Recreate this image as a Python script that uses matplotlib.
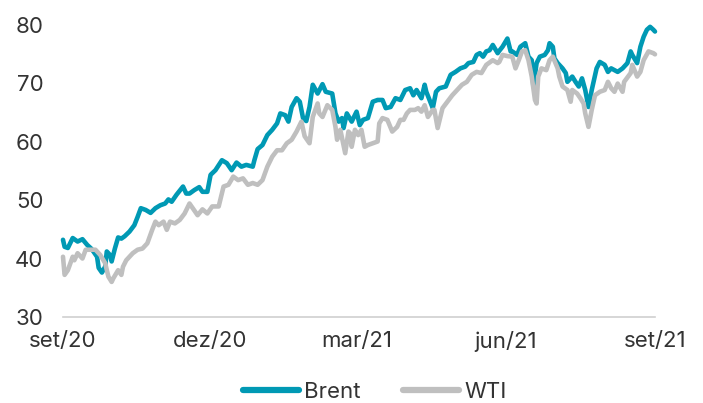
import matplotlib
matplotlib.use('Agg')
import matplotlib.pyplot as plt
import pandas as pd

# Preço do petróleo (US$/barril), set/20 a set/21
inicio = '2020-09-01'

brent_dias = [0, 1, 3, 6, 9, 12, 15, 17, 18, 21, 22, 24, 26, 27, 29, 30, 32, 34, 36, 38,
              41, 44, 46, 48, 51, 54, 57, 60, 63, 65, 67, 70, 74, 76, 78, 81, 84, 86, 89, 91,
              94, 98, 101, 104, 107, 110, 113, 117, 118, 120, 123, 126, 129, 132, 134, 137, 139, 141, 144, 146,
              148, 150, 152, 154, 157, 160, 162, 166, 168, 170, 172, 173, 175, 178, 181, 183, 185, 188, 191, 194,
              197, 199, 202, 205, 208, 211, 214, 216, 218, 221, 223, 224, 226, 228, 230, 232, 236, 239, 242, 245,
              248, 250, 253, 255, 257, 259, 261, 263, 265, 268, 269, 271, 274, 276, 277, 280, 282, 285, 287, 289,
              290, 292, 294, 297, 299, 300, 302, 303, 305, 308, 310, 311, 314, 316, 318, 320, 322, 324, 326, 329,
              331, 334, 336, 338, 342, 345, 348, 350, 351, 354, 356, 358, 360, 362, 364, 365]
brent = [43.2, 42.0, 41.8, 43.5, 42.9, 43.3, 42.3, 41.8, 41.5, 40.3, 38.4, 37.6, 38.6, 41.2, 40.6, 39.5, 41.7, 43.6, 43.4, 43.8,
         44.6, 45.7, 47.1, 48.6, 48.3, 47.8, 48.6, 49.1, 49.4, 50.1, 49.7, 50.9, 52.3, 51.1, 51.1, 51.7, 52.2, 51.4, 51.4, 54.3,
         55.1, 56.8, 56.3, 55.1, 56.4, 55.7, 56.0, 55.7, 56.8, 58.7, 59.4, 61.1, 62.0, 63.1, 64.8, 64.5, 63.4, 65.9, 67.4, 66.8,
         64.0, 63.5, 65.9, 69.7, 68.2, 69.8, 68.5, 68.2, 64.8, 63.4, 64.0, 62.3, 64.8, 63.4, 65.1, 62.8, 63.7, 64.0, 66.8, 67.1,
         67.1, 65.7, 65.9, 67.4, 67.1, 68.8, 69.1, 67.9, 68.8, 67.4, 69.7, 68.5, 67.1, 65.7, 68.5, 69.1, 69.4, 71.4, 71.9, 72.5,
         72.8, 73.4, 73.6, 74.8, 75.1, 74.5, 75.4, 75.6, 76.5, 75.1, 75.5, 76.2, 77.6, 75.4, 75.4, 74.8, 76.2, 76.8, 74.5, 73.9,
         69.4, 73.4, 74.5, 74.8, 75.6, 76.8, 76.2, 74.2, 73.4, 72.5, 71.7, 70.2, 71.1, 70.2, 69.4, 70.8, 68.8, 65.9, 68.8, 72.5,
         73.6, 73.1, 71.9, 72.5, 71.9, 72.5, 73.4, 75.4, 74.8, 73.4, 76.2, 77.9, 79.1, 79.6, 79.1, 78.8]

wti_dias = [0, 1, 3, 6, 7, 9, 12, 14, 17, 20, 23, 26, 28, 30, 31, 34, 36, 37, 39, 43,
            46, 49, 52, 55, 57, 59, 62, 64, 66, 69, 72, 75, 78, 83, 86, 89, 92, 96, 99, 102,
            105, 108, 111, 114, 117, 120, 123, 126, 129, 132, 135, 138, 141, 144, 147, 149, 152, 154, 157, 158,
            160, 163, 166, 168, 169, 171, 174, 176, 177, 178, 180, 182, 184, 186, 188, 191, 194, 195, 197, 200,
            203, 206, 208, 210, 212, 214, 217, 219, 221, 223, 225, 228, 229, 231, 234, 237, 240, 243, 246, 249,
            252, 255, 258, 261, 265, 268, 269, 271, 274, 277, 279, 281, 283, 285, 287, 289, 291, 292, 293, 295,
            298, 300, 302, 305, 306, 308, 311, 313, 314, 317, 319, 321, 322, 324, 326, 328, 331, 334, 336, 338,
            340, 342, 345, 346, 350, 351, 354, 356, 358, 361, 364, 365]
wti = [40.3, 37.2, 38.0, 40.3, 39.7, 40.9, 40.0, 41.5, 41.5, 41.5, 40.6, 39.2, 36.9, 36.0, 36.6, 38.0, 37.2, 38.6, 39.7, 40.9,
       41.5, 41.7, 42.6, 44.9, 46.3, 45.7, 46.3, 44.9, 46.3, 46.0, 46.6, 47.7, 49.4, 47.4, 48.4, 47.7, 48.9, 48.9, 52.3, 52.6,
       54.0, 53.4, 53.7, 52.6, 52.9, 52.6, 53.4, 55.7, 57.4, 58.5, 58.5, 59.7, 60.3, 61.7, 63.4, 60.9, 59.7, 64.2, 66.5, 64.8,
       64.2, 66.2, 65.4, 62.5, 60.3, 62.0, 58.0, 61.7, 61.4, 59.1, 62.0, 61.1, 62.0, 59.1, 59.4, 59.7, 60.0, 63.1, 64.0, 63.7,
       61.7, 62.5, 63.7, 63.7, 64.8, 65.4, 65.4, 65.7, 65.1, 66.2, 64.2, 65.4, 65.4, 62.3, 65.7, 66.8, 67.9, 68.8, 69.7, 70.2,
       71.4, 71.9, 71.7, 73.1, 73.9, 73.4, 73.6, 74.8, 74.6, 74.5, 72.5, 73.9, 75.4, 75.6, 73.9, 71.1, 67.1, 66.5, 71.1, 72.5,
       72.2, 73.9, 74.5, 72.5, 71.1, 69.4, 68.8, 66.8, 68.8, 68.2, 67.4, 66.5, 64.8, 62.5, 65.4, 67.9, 68.5, 68.8, 70.2, 69.1,
       68.5, 69.9, 68.5, 70.2, 71.7, 73.1, 71.1, 71.9, 73.9, 75.4, 75.1, 74.9]

rotulos_x = ['set/20', 'dez/20', 'mar/21', 'jun/21', 'set/21']
datas_rotulos = ['2020-09-01', '2020-12-01', '2021-03-01', '2021-06-01', '2021-09-01']

cor_brent = '#0099B4'
cor_wti = '#BFBFBF'

plt.rcParams['font.family'] = ['Inter', 'DejaVu Sans']

t0 = pd.Timestamp(inicio)
x_brent = t0 + pd.to_timedelta(brent_dias, unit='D')
x_wti = t0 + pd.to_timedelta(wti_dias, unit='D')

fig = plt.figure(figsize=(7.03, 4.03), dpi=100)
ax = fig.add_axes([0.0896, 0.2134, 0.8421, 0.7258])

ax.plot(x_brent, brent, color=cor_brent, lw=3.3, solid_capstyle='round',
        solid_joinstyle='round', label='Brent', clip_on=False)
ax.plot(x_wti, wti, color=cor_wti, lw=3.3, solid_capstyle='round',
        solid_joinstyle='round', label='WTI', clip_on=False)

ax.set_ylim(30, 80)
ax.set_yticks([30, 40, 50, 60, 70, 80])
ax.set_xlim(pd.Timestamp(datas_rotulos[0]), pd.Timestamp(datas_rotulos[-1]))
ax.set_xticks(pd.to_datetime(datas_rotulos))
ax.set_xticklabels(rotulos_x)

for lado in ['top', 'right', 'left']:
    ax.spines[lado].set_visible(False)
ax.spines['bottom'].set_color('#D0D0D0')
ax.spines['bottom'].set_linewidth(1.2)

ax.tick_params(axis='both', length=0, labelsize=16, labelcolor='#333333')
ax.tick_params(axis='y', pad=14)
ax.tick_params(axis='x', pad=10)

leg = fig.legend(loc='center', bbox_to_anchor=(375 / 703, 1 - 392 / 403), ncol=2,
                 frameon=False, fontsize=16, handlelength=2.5, handletextpad=0.25,
                 columnspacing=1.9, labelcolor='#333333')
for linha in leg.get_lines():
    linha.set_linewidth(4.5)
    linha.set_solid_capstyle('round')

fig.savefig('out.png', dpi=100)
